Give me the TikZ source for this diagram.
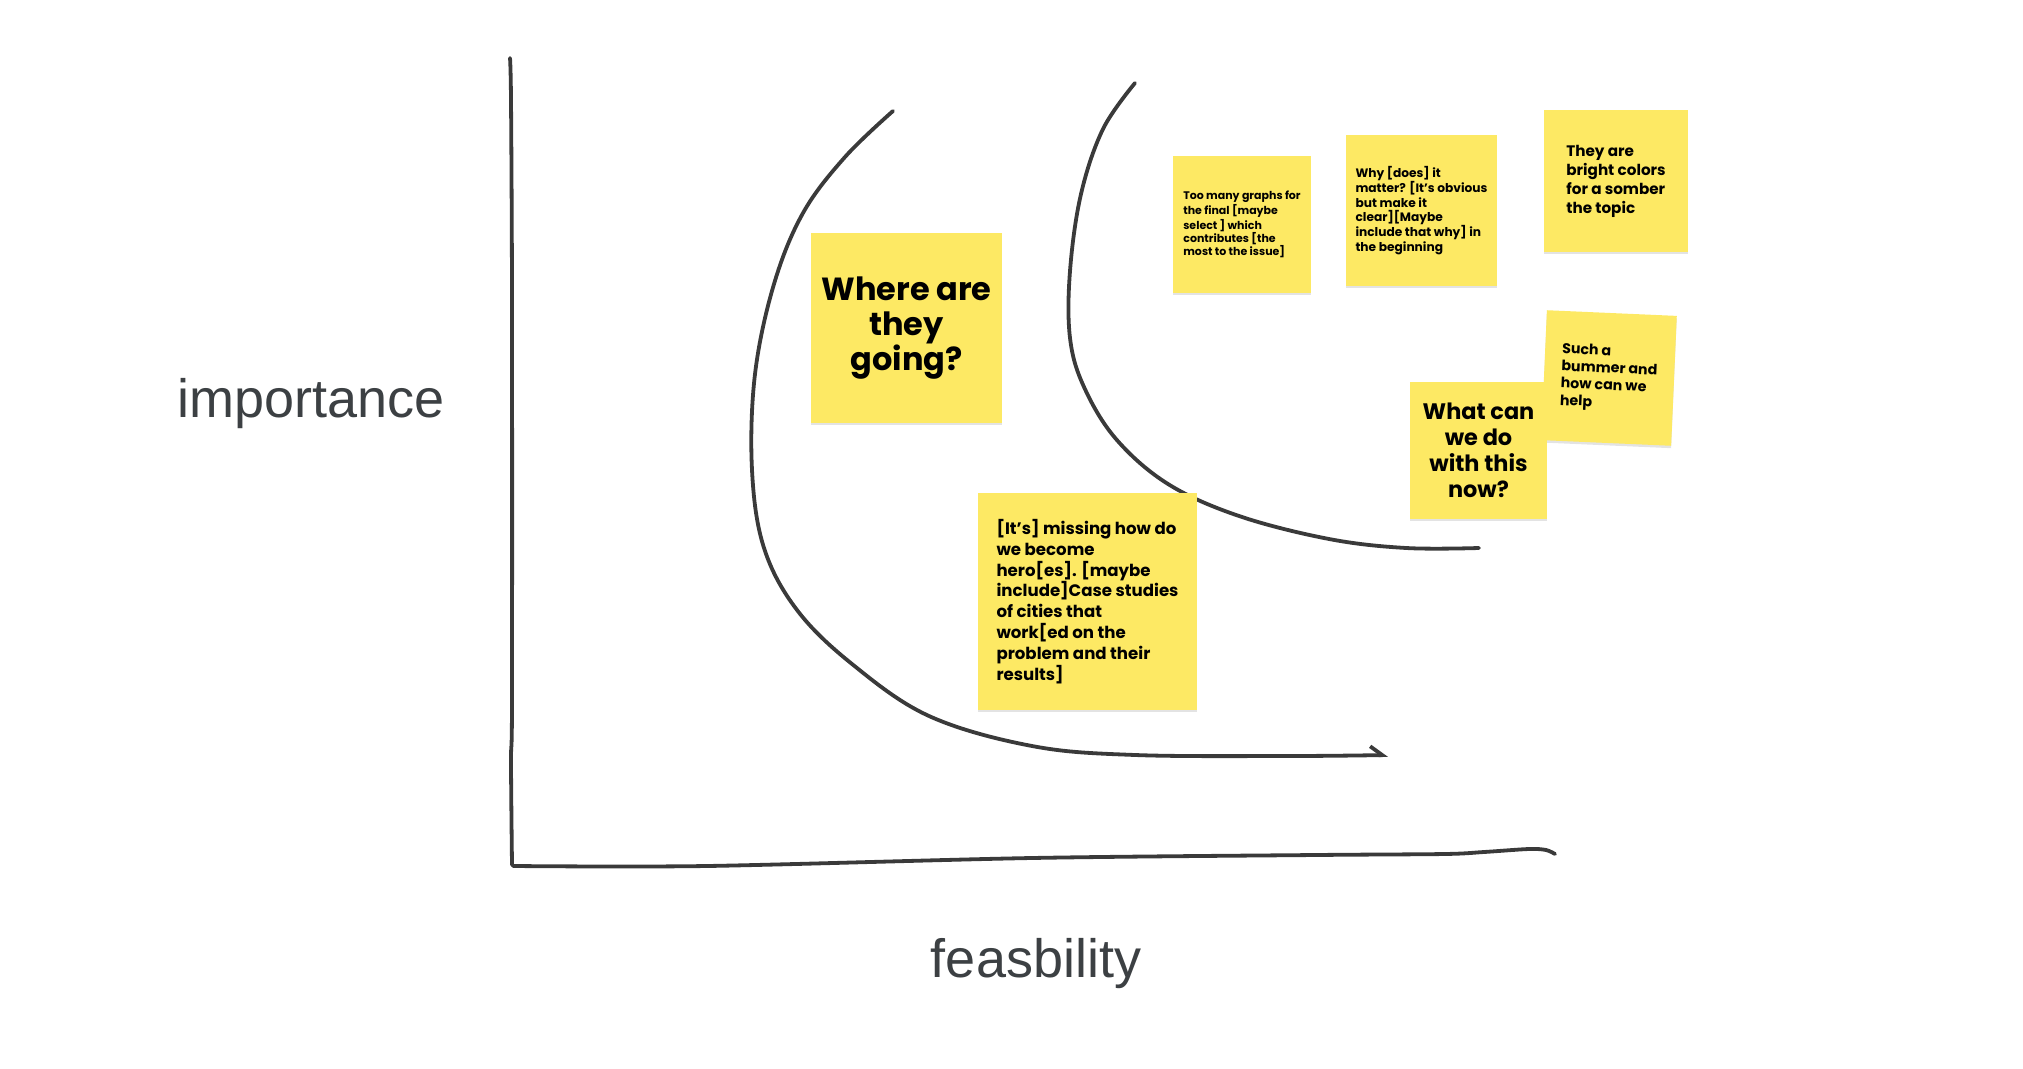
\documentclass[tikz,border=0pt]{standalone}
\usepackage{fontspec}
\setmainfont{Liberation Sans}
\newfontfamily\notefont{Poppins}
\usetikzlibrary{arrows.meta, shadows}
\definecolor{cyellow}{HTML}{FDE964}
\definecolor{cink}{HTML}{3A3A3A}
\definecolor{clabel}{HTML}{3C4043}
\tikzset{
  every picture/.style={x=0.5pt, y=-0.5pt},
  sketch/.style={draw=cink, line width=1.9pt, line cap=round, line join=round},
  axislabel/.style={font=\fontsize{27}{30}\selectfont, text=clabel, anchor=base},
  sticky/.style={fill=cyellow, inner sep=0pt, text=black,
    drop shadow={shadow xshift=0pt, shadow yshift=-1.2pt, opacity=0.22}},
  notesize/.style 2 args={font=\notefont\bfseries\fontsize{#1}{#2}\selectfont},
}

\begin{document}
\begin{tikzpicture}
  \useasboundingbox (0,0) rectangle (2023,1069);
  \draw[sketch] plot[smooth] coordinates {(510,58) (511,100) (512,300) (512,700) (511,760) (512,865)};
  \draw[sketch] plot[smooth] coordinates {(513,866) (707,866) (1032,858) (1316,855) (1445,854) (1484,852) (1529,849) (1546,850) (1555,854)};
  \node[axislabel] (imp) at (311,417) {importance};
  \node[axislabel] (fea) at (1036,977) {feasbility};

  \draw[sketch, -{Straight Barb[left, length=6pt, width=9pt]}] plot[smooth, tension=0.6] coordinates {(893,111) (845,157) (803,213) (774,284) (755,374) (752,470) (764,548) (797,610) (852,664) (929,716) (1032,746) (1135,755) (1290,756) (1388,755)};
  \draw[sketch] plot[smooth, tension=0.6] coordinates {(1135,83) (1103,129) (1081,194) (1070,271) (1070,338) (1084,387) (1116,439) (1168,484) (1239,516) (1329,539) (1406,548) (1479,548)};

  \node[sticky, notesize={16}{17.7}, minimum width=95.5pt, minimum height=95pt, align=center] (where) at (906.5,328)
    {Where are\\they\\going?};
  \node[sticky, notesize={8.3}{10.4}, minimum width=109.5pt, minimum height=108.5pt, align=left] (missing) at (1087.5,601.5)
    {[It’s] missing how do\\we become\\hero[es]. [maybe\\include]Case studies\\of cities that\\work[ed on the\\problem and their\\results]};
  \node[sticky, notesize={5.5}{6.45}, minimum width=69pt, minimum height=68.5pt, align=left] (graphs) at (1242,224.5)
    {Too many graphs for\\the final [maybe\\select ] which\\contributes [the\\most to the issue]};
  \node[sticky, notesize={6.1}{7.35}, minimum width=75.5pt, minimum height=75.5pt, align=left] (why) at (1421.5,210.5)
    {Why [does] it\\matter? [It’s obvious\\but make it\\clear][Maybe\\include that why] in\\the beginning};
  \node[sticky, notesize={7.6}{9.5}, minimum width=72pt, minimum height=71pt, align=left] (colors) at (1616,181)
    {They are\\bright colors\\for a somber\\the topic};
  \node[sticky, notesize={7.1}{8.6}, minimum width=65pt, minimum height=65pt, align=left, rotate=-2.5] (bummer) at (1609,378)
    {Such a\\bummer and\\how can we\\help};
  \node[sticky, notesize={11.2}{12.9}, minimum width=68.5pt, minimum height=68.5pt, align=center] (whatnow) at (1478.5,450.5)
    {What can\\we do\\with this\\now?};
\end{tikzpicture}
\end{document}
